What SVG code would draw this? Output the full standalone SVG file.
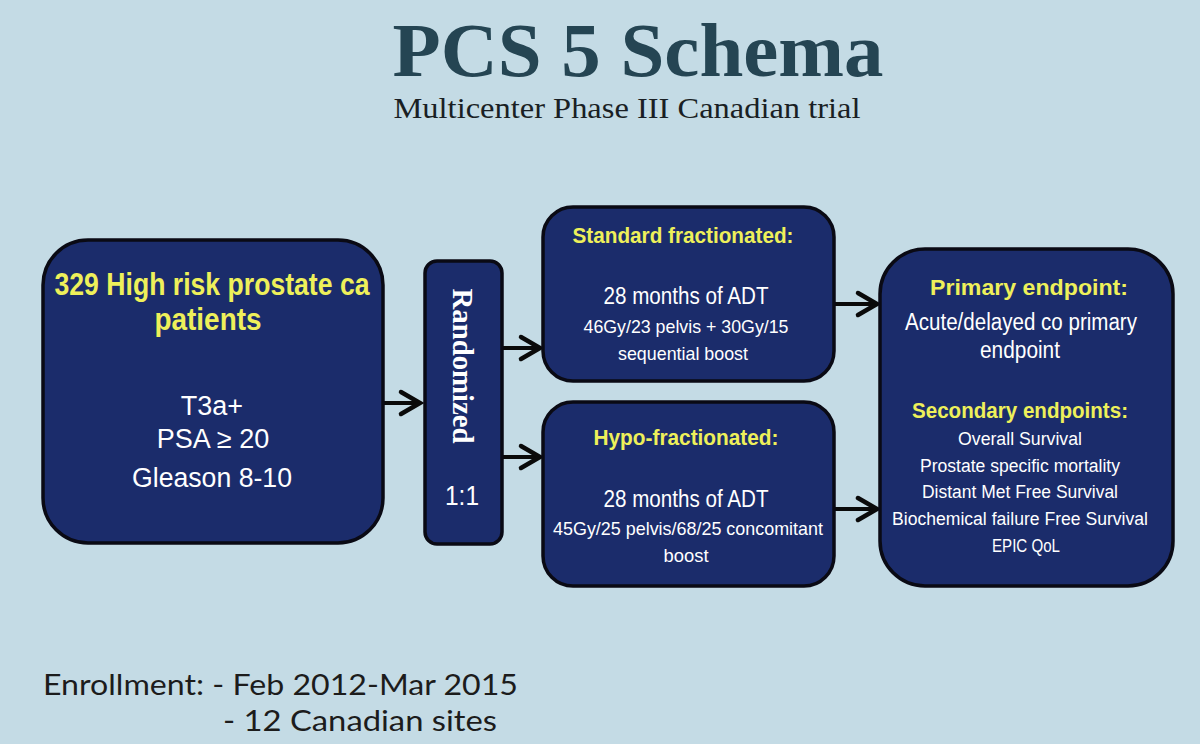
<svg xmlns="http://www.w3.org/2000/svg" width="1200" height="744" viewBox="0 0 1200 744">
<style>
.box{fill:#1b2c6b;stroke:#0a0a14;stroke-width:3.5}
.hd{font-family:"Liberation Sans",Arial,sans-serif;font-weight:bold;fill:#eef05a;text-anchor:middle}
.tx{font-family:"Liberation Sans",Arial,sans-serif;fill:#ffffff;text-anchor:middle}
.con{stroke:#0a0a0a;stroke-width:4;fill:none}
</style>
<defs>
<marker id="arr" markerUnits="userSpaceOnUse" viewBox="-26 -16 30 32" markerWidth="30" markerHeight="32" refX="0" refY="0" orient="auto">
<path d="M-20,-11 L-1,0 L-20,11" fill="none" stroke="#0a0a0a" stroke-width="4.5" stroke-linecap="round" stroke-linejoin="miter"/>
</marker>
</defs>
<rect width="1200" height="744" fill="#c4dbe5"/>
<g id="title">
<text x="638" y="76" text-anchor="middle" font-family="Liberation Serif,'Times New Roman',serif" font-weight="bold" font-size="76" fill="#254553" textLength="491" lengthAdjust="spacingAndGlyphs">PCS 5 Schema</text>
<text x="627" y="118" text-anchor="middle" font-family="Liberation Serif,'Times New Roman',serif" font-size="30" fill="#1a1f24" textLength="467" lengthAdjust="spacingAndGlyphs">Multicenter Phase III Canadian trial</text>
</g>
<g id="connectors">
<line class="con" x1="383" y1="403" x2="421" y2="403" marker-end="url(#arr)"/>
<line class="con" x1="502" y1="348" x2="541" y2="348" marker-end="url(#arr)"/>
<line class="con" x1="502" y1="457" x2="541" y2="457" marker-end="url(#arr)"/>
<line class="con" x1="835" y1="304" x2="878" y2="304" marker-end="url(#arr)"/>
<line class="con" x1="835" y1="509" x2="878" y2="509" marker-end="url(#arr)"/>
</g>
<g id="patients">
<rect class="box" x="43" y="240" width="340" height="303" rx="45"/>
<text class="hd" x="212" y="295" font-size="32" textLength="315" lengthAdjust="spacingAndGlyphs">329 High risk prostate ca</text>
<text class="hd" x="208" y="330" font-size="32" textLength="107" lengthAdjust="spacingAndGlyphs">patients</text>
<text class="tx" x="212" y="415" font-size="27">T3a+</text>
<text class="tx" x="213" y="448" font-size="27">PSA ≥ 20</text>
<text class="tx" x="212" y="487" font-size="27" textLength="160" lengthAdjust="spacingAndGlyphs">Gleason 8-10</text>
</g>
<g id="randomized">
<rect class="box" x="425" y="261" width="77" height="283" rx="12"/>
<text transform="translate(453,366) rotate(90)" text-anchor="middle" font-family="Liberation Serif,'Times New Roman',serif" font-weight="bold" font-size="29" fill="#ffffff" textLength="155" lengthAdjust="spacingAndGlyphs">Randomized</text>
<text class="tx" x="462" y="505" font-size="27" textLength="34" lengthAdjust="spacingAndGlyphs">1:1</text>
</g>
<g id="standard">
<rect class="box" x="543" y="207" width="291" height="174" rx="30"/>
<text class="hd" x="683" y="243" font-size="22" textLength="221" lengthAdjust="spacingAndGlyphs">Standard fractionated:</text>
<text class="tx" x="686" y="304" font-size="23" textLength="165" lengthAdjust="spacingAndGlyphs">28 months of ADT</text>
<text class="tx" x="686" y="333" font-size="19" textLength="205" lengthAdjust="spacingAndGlyphs">46Gy/23 pelvis + 30Gy/15</text>
<text class="tx" x="683" y="360" font-size="19" textLength="130" lengthAdjust="spacingAndGlyphs">sequential boost</text>
</g>
<g id="hypo">
<rect class="box" x="543" y="402" width="291" height="184" rx="30"/>
<text class="hd" x="686" y="445" font-size="22" textLength="185" lengthAdjust="spacingAndGlyphs">Hypo-fractionated:</text>
<text class="tx" x="686" y="507" font-size="23" textLength="165" lengthAdjust="spacingAndGlyphs">28 months of ADT</text>
<text class="tx" x="688" y="535" font-size="19" textLength="270" lengthAdjust="spacingAndGlyphs">45Gy/25 pelvis/68/25 concomitant</text>
<text class="tx" x="686" y="562" font-size="19" textLength="45" lengthAdjust="spacingAndGlyphs">boost</text>
</g>
<g id="endpoints">
<rect class="box" x="880" y="249" width="293" height="337" rx="45"/>
<text class="hd" x="1029" y="295" font-size="22" textLength="198" lengthAdjust="spacingAndGlyphs">Primary endpoint:</text>
<text class="tx" x="1021" y="330" font-size="23" textLength="232" lengthAdjust="spacingAndGlyphs">Acute/delayed co primary</text>
<text class="tx" x="1020" y="358" font-size="23" textLength="80" lengthAdjust="spacingAndGlyphs">endpoint</text>
<text class="hd" x="1020" y="418" font-size="22" textLength="216" lengthAdjust="spacingAndGlyphs">Secondary endpoints:</text>
<text class="tx" x="1020" y="445" font-size="18" textLength="124" lengthAdjust="spacingAndGlyphs">Overall Survival</text>
<text class="tx" x="1020" y="472" font-size="18" textLength="200" lengthAdjust="spacingAndGlyphs">Prostate specific mortality</text>
<text class="tx" x="1020" y="498" font-size="18" textLength="196" lengthAdjust="spacingAndGlyphs">Distant Met Free Survival</text>
<text class="tx" x="1020" y="525" font-size="18" textLength="256" lengthAdjust="spacingAndGlyphs">Biochemical failure Free Survival</text>
<text class="tx" x="1026" y="552" font-size="18" textLength="68" lengthAdjust="spacingAndGlyphs">EPIC QoL</text>
</g>
<g id="enrollment" font-family="Lato,'Open Sans',sans-serif" font-size="29" fill="#1c1c1c">
<text x="43" y="695" textLength="475" lengthAdjust="spacingAndGlyphs">Enrollment: - Feb 2012-Mar 2015</text>
<text x="223" y="731" textLength="274" lengthAdjust="spacingAndGlyphs">- 12 Canadian sites</text>
</g>
</svg>
